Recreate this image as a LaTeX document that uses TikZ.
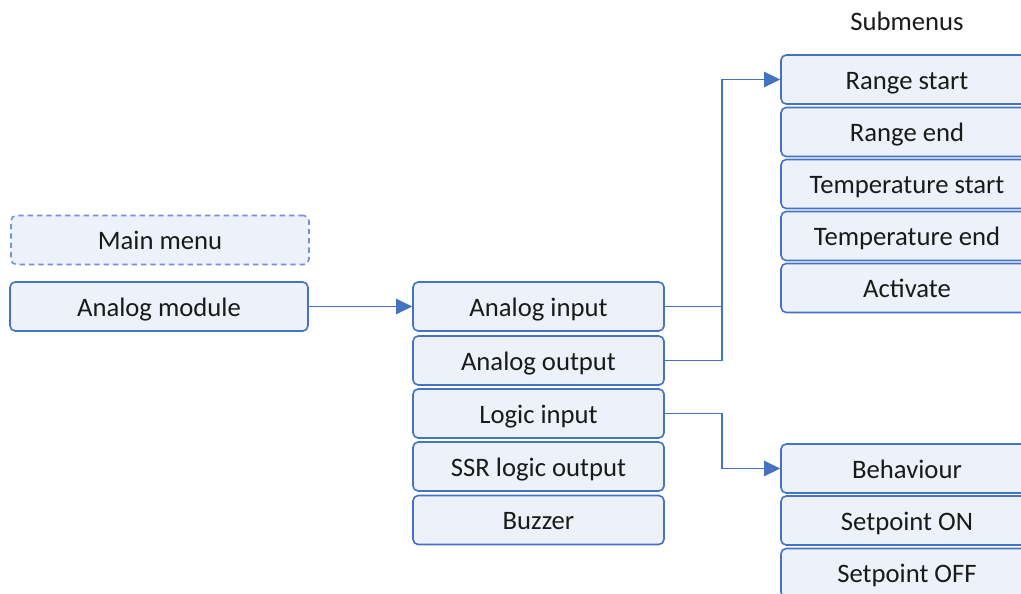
\documentclass[tikz,border=0pt]{standalone}
\usepackage{fontspec}
\setmainfont{Carlito}
\usetikzlibrary{arrows.meta}
\definecolor{bblue}{HTML}{4472C4}
\definecolor{bfill}{HTML}{EDF1F9}
\definecolor{dblue}{HTML}{6F93D6}
\definecolor{txt}{HTML}{1A1A1A}
\tikzset{
  menubox/.style={draw=bblue, fill=bfill, line width=1.2pt, rounded corners=4pt,
    minimum height=36.8pt, inner sep=0pt, text=txt, font=\fontsize{20pt}{24pt}\selectfont,
    text height=14.3pt, text depth=0pt},
  leftbox/.style={menubox, minimum width=223.5pt},
  midbox/.style={menubox, minimum width=188.3pt},
  rightbox/.style={menubox, minimum width=189pt},
  mainbox/.style={leftbox, draw=dblue, dashed, dash pattern=on 4pt off 3pt},
  conn/.style={draw=bblue, line width=0.9pt},
  arr/.style={conn, -{Triangle[length=12pt, width=11.5pt]}},
  lbl/.style={text=txt, font=\fontsize{20pt}{24pt}\selectfont}
}
\begin{document}
\begin{tikzpicture}[x=0.75pt, y=-0.75pt]
\useasboundingbox (0,0) rectangle (1021,593);
\clip (0,0) rectangle (1021,593);
% left column
\node[mainbox] (mm) at (160,240) {Main menu};
\node[leftbox] (am) at (159,306.5) {Analog module};
% middle column
\node[midbox] (ai) at (538.5,306.5) {Analog input};
\node[midbox] (ao) at (538.5,360.5) {Analog output};
\node[midbox] (li) at (538.5,413.5) {Logic input};
\node[midbox] (ssr) at (538.5,466.5) {SSR logic output};
\node[midbox] (bz) at (538.5,520) {Buzzer};
% right column, top
\node[lbl] (sub) at (907,21) {Submenus};
\node[rightbox] (rs) at (907,79.5) {Range start};
\node[rightbox] (re) at (907,132) {Range end};
\node[rightbox] (ts) at (907,184) {Temperature start};
\node[rightbox] (te) at (907,236) {Temperature end};
\node[rightbox] (act) at (907,288) {Activate};
% right column, bottom
\node[rightbox] (bh) at (907,468.5) {Behaviour};
\node[rightbox] (son) at (907,520.5) {Setpoint ON};
\node[rightbox] (soff) at (907,573) {Setpoint OFF};
% junction
\coordinate (j) at (722,0);
% connectors
\draw[arr] (am.east) -- (ai.west);
\draw[arr] (ai.east) -- (ai.east -| j) |- (rs.west);
\draw[conn] (ao.east) -- (ao.east -| j) -- (ai.east -| j);
\draw[arr] (li.east) -- (li.east -| j) |- (bh.west);
\end{tikzpicture}
\end{document}
